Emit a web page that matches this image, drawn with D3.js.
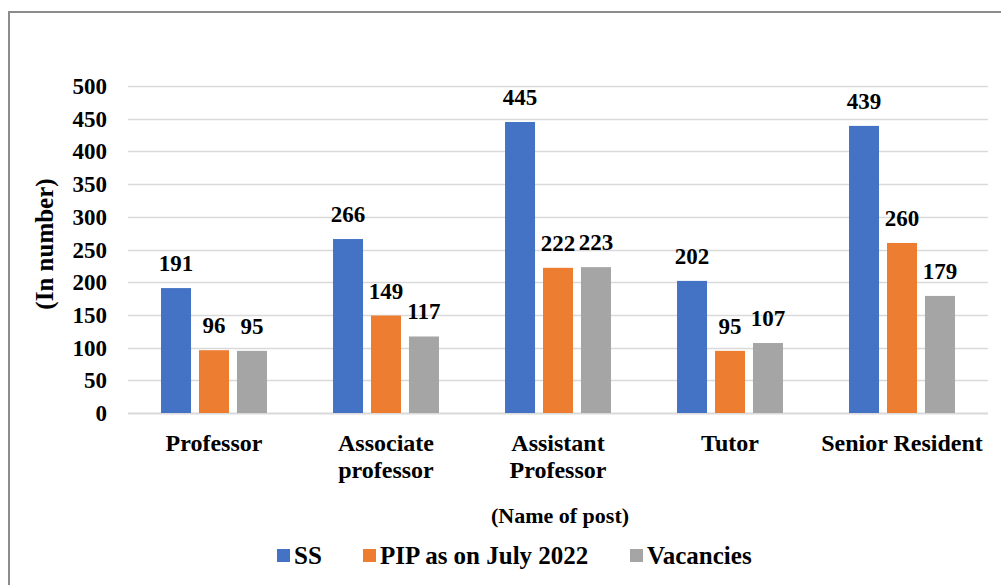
<!DOCTYPE html>
<html>
<head>
<meta charset="utf-8">
<script src="https://cdnjs.cloudflare.com/ajax/libs/d3/7.8.5/d3.min.js"></script>
<style>
  body { margin: 0; background: #fff; }
</style>
</head>
<body>
<svg width="1001" height="585"></svg>
<script>
var categories = [['Professor'], ['Associate', 'professor'], ['Assistant', 'Professor'], ['Tutor'], ['Senior Resident']]
var seriesNames = ['SS', 'PIP as on July 2022', 'Vacancies']
var ss = [191, 266, 445, 202, 439]
var pip = [96, 149, 222, 95, 260]
var vacancies = [95, 117, 223, 107, 179]
var yTicks = [0, 50, 100, 150, 200, 250, 300, 350, 400, 450, 500]
var colors = ['#4472c4', '#ed7d31', '#a5a5a5']

var series = [ss, pip, vacancies]
var keys = categories.map(function(c){ return c.join(' ') })
var font = "'Liberation Serif', 'Times New Roman', serif"

var svg = d3.select('svg')

// outer frame (only left and top edges fall inside the picture)
svg.append('rect')
    .attr('x', 9).attr('y', 12)
    .attr('width', 1100).attr('height', 700)
    .attr('fill', 'none')
    .attr('stroke', '#8c8c8c')
    .attr('stroke-width', 2)

var plotLeft = 128, plotRight = 988, plotTop = 86, plotBottom = 413

var x0 = d3.scaleBand().domain(keys).range([plotLeft, plotRight]).paddingInner(0.384).paddingOuter(0.192)
var x1 = d3.scaleBand().domain(d3.range(3)).range([0, x0.bandwidth()]).paddingInner(0.21)
var y = d3.scaleLinear().domain([0, 500]).range([plotBottom, plotTop])

function label(sel, size){
    return sel.style('font-family', font)
        .style('font-weight', 'bold')
        .style('font-size', size + 'px')
        .attr('fill', '#000')
}

// gridlines
svg.append('g').selectAll('line')
    .data(yTicks)
    .enter()
    .append('line')
    .attr('x1', plotLeft).attr('x2', plotRight)
    .attr('y1', function(d){ return Math.round(y(d)) + 0.5 })
    .attr('y2', function(d){ return Math.round(y(d)) + 0.5 })
    .style('stroke', '#d9d9d9')
    .style('stroke-width', function(d){ return d === 0 ? 2 : 1.3 })

// y tick labels
svg.append('g').selectAll('text')
    .data(yTicks)
    .enter()
    .append('text')
    .attr('x', 107)
    .attr('y', function(d){ return y(d) + 8 })
    .attr('text-anchor', 'end')
    .call(label, 23)
    .text(function(d){ return d })

// bars
var groups = svg.append('g').selectAll('g')
    .data(keys)
    .enter()
    .append('g')
    .attr('transform', function(d){ return 'translate(' + x0(d) + ',0)' })

groups.selectAll('rect')
    .data(function(d, i){ return series.map(function(s, j){ return {s: j, v: s[i]} }) })
    .enter()
    .append('rect')
    .attr('x', function(d){ return x1(d.s) })
    .attr('width', x1.bandwidth())
    .attr('y', function(d){ return y(d.v) })
    .attr('height', function(d){ return y(0) - y(d.v) })
    .attr('fill', function(d){ return colors[d.s] })

groups.selectAll('text')
    .data(function(d, i){ return series.map(function(s, j){ return {s: j, v: s[i]} }) })
    .enter()
    .append('text')
    .attr('x', function(d){ return x1(d.s) + x1.bandwidth() / 2 })
    .attr('y', function(d){ return y(d.v) - 17 })
    .attr('text-anchor', 'middle')
    .call(label, 23)
    .text(function(d){ return d.v })

// category labels
svg.append('g').selectAll('text')
    .data(categories)
    .enter()
    .append('text')
    .attr('x', function(d, i){ return x0(keys[i]) + x0.bandwidth() / 2 })
    .attr('y', 451)
    .attr('text-anchor', 'middle')
    .call(label, 24)
    .each(function(d){
        var t = d3.select(this)
        d.forEach(function(line, k){
            t.append('tspan')
                .attr('x', t.attr('x'))
                .attr('dy', k === 0 ? 0 : 27)
                .text(line)
        })
    })

// axis titles
svg.append('text')
    .attr('transform', 'translate(53,244) rotate(-90)')
    .attr('text-anchor', 'middle')
    .call(label, 25)
    .text('(In number)')

svg.append('text')
    .attr('x', 560).attr('y', 523)
    .attr('text-anchor', 'middle')
    .call(label, 22)
    .text('(Name of post)')

// legend
var legendX = [277, 363, 630]
var legend = svg.append('g').selectAll('g')
    .data(seriesNames)
    .enter()
    .append('g')
    .attr('transform', function(d, i){ return 'translate(' + legendX[i] + ',549)' })

legend.append('rect')
    .attr('width', 13).attr('height', 13)
    .attr('fill', function(d, i){ return colors[i] })

legend.append('text')
    .attr('x', 17).attr('y', 15)
    .call(label, 25)
    .text(function(d){ return d })
</script>
</body>
</html>
